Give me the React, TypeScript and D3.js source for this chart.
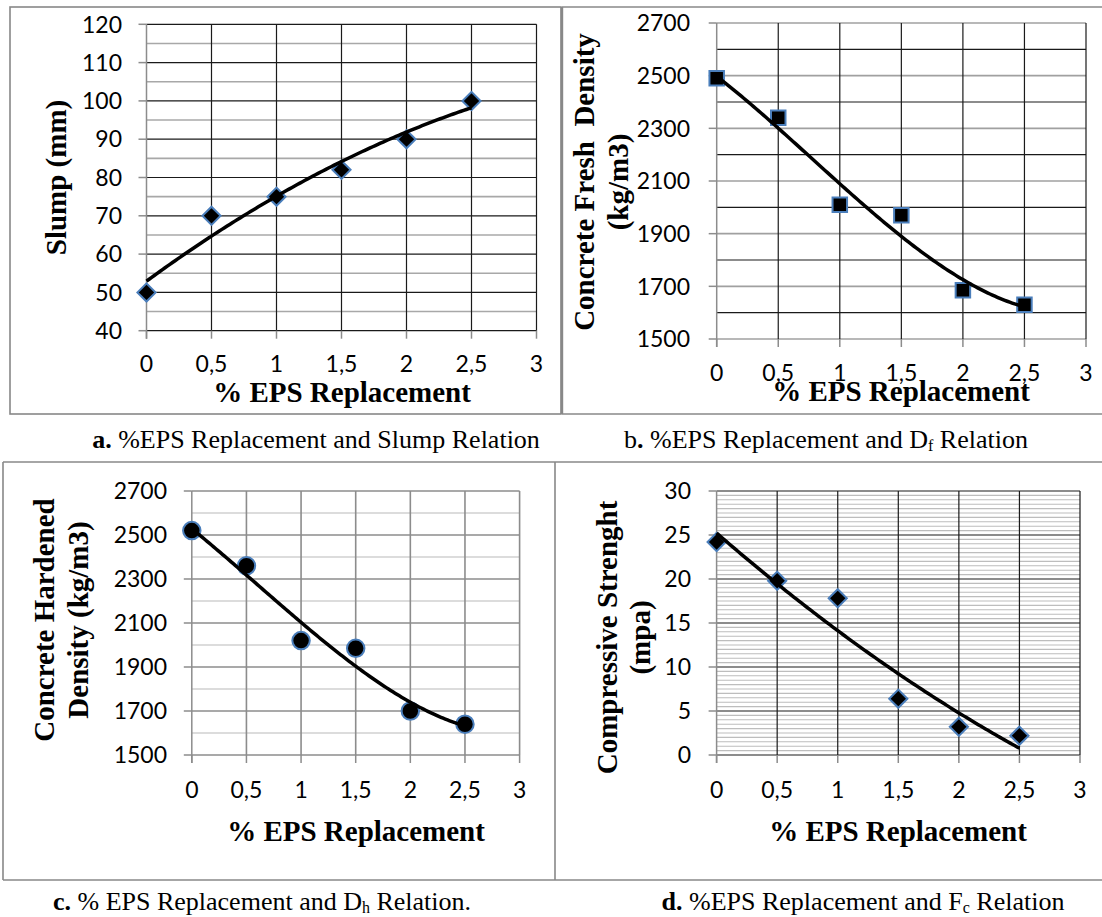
import React from 'react';
import * as d3 from 'd3';

// ---------- data ----------
const xValues = [0, 0.5, 1, 1.5, 2, 2.5];
const slumpValues = [50, 70, 75, 82, 90, 100];
const freshDensityValues = [2490, 2340, 2010, 1970, 1685, 1630];
const hardenedDensityValues = [2520, 2360, 2020, 1985, 1700, 1640];
const strengthValues = [24.2, 19.8, 17.8, 6.4, 3.2, 2.2];

const xTicks = [0, 0.5, 1, 1.5, 2, 2.5, 3];
const slumpTicks = [40, 50, 60, 70, 80, 90, 100, 110, 120];
const densityTicks = [1500, 1700, 1900, 2100, 2300, 2500, 2700];
const strengthTicks = [0, 5, 10, 15, 20, 25, 30];

const xAxisTitle = '% EPS Replacement';

// ---------- helpers ----------
function polyfit(xs: number[], ys: number[], order: number): number[] {
  const n = order + 1;
  const M: number[][] = Array.from({ length: n }, () => new Array(n + 1).fill(0));
  for (let r = 0; r < n; r++) {
    for (let c = 0; c < n; c++) {
      M[r][c] = d3.sum(xs, (x) => Math.pow(x, r + c));
    }
    M[r][n] = d3.sum(xs.map((x, i) => Math.pow(x, r) * ys[i]));
  }
  for (let i = 0; i < n; i++) {
    let p = i;
    for (let k = i + 1; k < n; k++) if (Math.abs(M[k][i]) > Math.abs(M[p][i])) p = k;
    [M[i], M[p]] = [M[p], M[i]];
    for (let k = i + 1; k < n; k++) {
      const f = M[k][i] / M[i][i];
      for (let c = i; c <= n; c++) M[k][c] -= f * M[i][c];
    }
  }
  const coef = new Array(n).fill(0);
  for (let i = n - 1; i >= 0; i--) {
    let s = M[i][n];
    for (let c = i + 1; c < n; c++) s -= M[i][c] * coef[c];
    coef[i] = s / M[i][i];
  }
  return coef;
}
const evalPoly = (coef: number[], x: number) => coef.reduce((s, c, i) => s + c * Math.pow(x, i), 0);

const SERIF = "'Liberation Serif', 'Times New Roman', serif";
const SANS = "Lato, 'Open Sans', sans-serif";
const MARKER_BLUE = '#4a7ebb';
const AXIS_GRAY = '#8c8c8c';

type GridStyle = { color: string; width: number };
type PanelCfg = {
  values: number[];
  yTicks: number[];
  minorStep: number;
  order: number;
  marker: 'diamond' | 'square' | 'circle';
  x0: number; x1: number; y0: number; y1: number;
  yLabelRight: number;
  xLabelY: number;
  xTitleX: number; xTitleY: number;
  yTitleLines: { text: string; x: number }[];
  yTitleY: number;
  majorH: GridStyle; minorH: GridStyle; vert: GridStyle;
};

function Panel({ cfg }: { cfg: PanelCfg }) {
  const yMin = cfg.yTicks[0];
  const yMax = cfg.yTicks[cfg.yTicks.length - 1];
  const x = d3.scaleLinear().domain([0, 3]).range([cfg.x0, cfg.x1]);
  const y = d3.scaleLinear().domain([yMin, yMax]).range([cfg.y1, cfg.y0]);
  const minor = d3
    .range(yMin, yMax + cfg.minorStep / 2, cfg.minorStep)
    .map((v) => Math.round(v * 1000) / 1000)
    .filter((v) => !cfg.yTicks.some((t) => Math.abs(t - v) < 1e-6));
  const coef = polyfit(xValues, cfg.values, cfg.order);
  const samples = d3.range(0, 2.5 + 1e-9, 0.02);
  const trend = d3
    .line<number>()
    .x((d) => x(d))
    .y((d) => y(evalPoly(coef, d)))
    .curve(d3.curveLinear)(samples);
  const fmtX = (v: number) => d3.format('~g')(v).replace('.', ',');

  let symPath = '';
  let rot = 0;
  if (cfg.marker === 'diamond') {
    symPath = d3.symbol(d3.symbolSquare, 165)()!;
    rot = 45;
  } else if (cfg.marker === 'square') {
    symPath = d3.symbol(d3.symbolSquare, 210)()!;
  } else {
    symPath = d3.symbol(d3.symbolCircle, 240)()!;
  }

  return (
    <g>
      {minor.map((v) => (
        <line key={'mn' + v} x1={cfg.x0} x2={cfg.x1} y1={y(v)} y2={y(v)} stroke={cfg.minorH.color} strokeWidth={cfg.minorH.width} />
      ))}
      {cfg.yTicks.map((v) => (
        <line key={'mj' + v} x1={cfg.x0} x2={cfg.x1} y1={y(v)} y2={y(v)} stroke={cfg.majorH.color} strokeWidth={cfg.majorH.width} />
      ))}
      {xTicks.slice(1).map((v) => (
        <line key={'v' + v} x1={x(v)} x2={x(v)} y1={cfg.y0} y2={cfg.y1} stroke={cfg.vert.color} strokeWidth={cfg.vert.width} />
      ))}
      {/* y axis */}
      <line x1={cfg.x0} x2={cfg.x0} y1={cfg.y0} y2={cfg.y1 + 8} stroke={AXIS_GRAY} strokeWidth={1.5} />
      {cfg.yTicks.map((v) => (
        <line key={'yt' + v} x1={cfg.x0 - 8} x2={cfg.x0} y1={y(v)} y2={y(v)} stroke={AXIS_GRAY} strokeWidth={1.5} />
      ))}
      {xTicks.map((v) => (
        <line key={'xt' + v} x1={x(v)} x2={x(v)} y1={cfg.y1} y2={cfg.y1 + 8} stroke={AXIS_GRAY} strokeWidth={1.5} />
      ))}
      {cfg.yTicks.map((v) => (
        <text key={'yl' + v} x={cfg.yLabelRight} y={y(v)} dy="0.36em" textAnchor="end" fontFamily={SANS} fontSize={23} fill="#000">
          {v}
        </text>
      ))}
      {xTicks.map((v) => (
        <text key={'xl' + v} x={x(v)} y={cfg.xLabelY} dy="0.36em" textAnchor="middle" fontFamily={SANS} fontSize={23} fill="#000">
          {fmtX(v)}
        </text>
      ))}
      {/* markers */}
      {xValues.map((xv, i) => (
        <path
          key={'m' + i}
          d={symPath}
          transform={`translate(${x(xv)},${y(cfg.values[i])}) rotate(${rot})`}
          fill="#000"
          stroke={MARKER_BLUE}
          strokeWidth={2}
        />
      ))}
      <path d={trend ?? ''} fill="none" stroke="#000" strokeWidth={3.5} strokeLinecap="butt" />
      <text x={cfg.xTitleX} y={cfg.xTitleY} textAnchor="middle" fontFamily={SERIF} fontWeight="bold" fontSize={29} fill="#000">
        {xAxisTitle}
      </text>
      {cfg.yTitleLines.map((l, i) => (
        <text
          key={'yt' + i}
          transform={`translate(${l.x},${cfg.yTitleY}) rotate(-90)`}
          textAnchor="middle"
          fontFamily={SERIF}
          fontWeight="bold"
          fontSize={29}
          fill="#000"
          style={{ whiteSpace: 'pre' }}
        >
          {l.text}
        </text>
      ))}
    </g>
  );
}

const panels: PanelCfg[] = [
  {
    values: slumpValues, yTicks: slumpTicks, minorStep: 5, order: 2, marker: 'diamond',
    x0: 146.5, x1: 536.5, y0: 24.3, y1: 330.7, yLabelRight: 122, xLabelY: 364,
    xTitleX: 342, xTitleY: 402, yTitleLines: [{ text: 'Slump (mm)', x: 66 }], yTitleY: 177.5,
    majorH: { color: '#1a1a1a', width: 1.2 }, minorH: { color: '#a8a8a8', width: 1.6 }, vert: { color: '#1a1a1a', width: 1.2 },
  },
  {
    values: freshDensityValues, yTicks: densityTicks, minorStep: 100, order: 3, marker: 'square',
    x0: 716.7, x1: 1086, y0: 23, y1: 339, yLabelRight: 690, xLabelY: 373,
    xTitleX: 901, xTitleY: 401,
    yTitleLines: [{ text: 'Concrete Fresh  Density', x: 594 }, { text: '(kg/m3)', x: 628 }], yTitleY: 182,
    majorH: { color: '#a0a0a0', width: 1.6 }, minorH: { color: '#1a1a1a', width: 1.2 }, vert: { color: '#1a1a1a', width: 1.2 },
  },
  {
    values: hardenedDensityValues, yTicks: densityTicks, minorStep: 100, order: 3, marker: 'circle',
    x0: 191.8, x1: 519.6, y0: 491, y1: 755, yLabelRight: 167, xLabelY: 790,
    xTitleX: 356, xTitleY: 841,
    yTitleLines: [{ text: 'Concrete Hardened', x: 54 }, { text: 'Density (kg/m3)', x: 88 }], yTitleY: 620,
    majorH: { color: '#8c8c8c', width: 1.6 }, minorH: { color: '#d0d0d0', width: 1.6 }, vert: { color: '#8c8c8c', width: 1.6 },
  },
  {
    values: strengthValues, yTicks: strengthTicks, minorStep: 0.5, order: 2, marker: 'diamond',
    x0: 716.6, x1: 1080, y0: 491, y1: 755, yLabelRight: 691, xLabelY: 790,
    xTitleX: 898, xTitleY: 841,
    yTitleLines: [{ text: 'Compressive Strenght', x: 617 }, { text: '(mpa)', x: 650 }], yTitleY: 637.5,
    majorH: { color: '#1a1a1a', width: 1.2 }, minorH: { color: '#bdbdbd', width: 1.1 }, vert: { color: '#1a1a1a', width: 1.2 },
  },
];

function Caption({ x, y, bold, rest, sub, tail, boldLetterRegular }: { x: number; y: number; bold: string; rest: string; sub: string; tail: string; boldLetterRegular?: boolean }) {
  return (
    <text x={x} y={y} textAnchor="middle" fontFamily={SERIF} fontSize={26} fill="#000" style={{ whiteSpace: 'pre' }}>
      {boldLetterRegular ? (
        <>
          <tspan>{bold.slice(0, -1)}</tspan>
          <tspan fontWeight="bold">{bold.slice(-1)}</tspan>
        </>
      ) : (
        <tspan fontWeight="bold">{bold}</tspan>
      )}
      <tspan>{rest}</tspan>
      {sub ? (
        <tspan fontSize={16} dy={3}>
          {sub}
        </tspan>
      ) : null}
      <tspan dy={sub ? -3 : 0}>{tail}</tspan>
    </text>
  );
}

export default function App() {
  const frame = '#888888';
  return (
    <svg width={1102} height={917} style={{ position: 'absolute', left: 0, top: 0, background: '#fff' }}>
      <rect x={0} y={0} width={1102} height={917} fill="#fff" />
      {/* frames */}
      <rect x={10} y={7} width={551} height={407} fill="none" stroke={frame} strokeWidth={1.6} />
      <line x1={562} x2={1102} y1={7} y2={7} stroke={frame} strokeWidth={1.6} />
      <line x1={562} x2={562} y1={7} y2={414} stroke={frame} strokeWidth={2.4} />
      <line x1={562} x2={1102} y1={414} y2={414} stroke={frame} strokeWidth={1.6} />
      <line x1={3} x2={1102} y1={462} y2={462} stroke={frame} strokeWidth={1.6} />
      <line x1={3} x2={3} y1={462} y2={880} stroke={frame} strokeWidth={1.6} />
      <line x1={3} x2={1102} y1={880} y2={880} stroke={frame} strokeWidth={1.6} />
      <line x1={555} x2={555} y1={462} y2={880} stroke={frame} strokeWidth={1.6} />
      {panels.map((p, i) => (
        <Panel key={i} cfg={p} />
      ))}
      <Caption x={316} y={448} bold="a." rest=" %EPS Replacement and Slump Relation" sub="" tail="" />
      <Caption x={826} y={448} bold="b." rest=" %EPS Replacement and D" sub="f" tail=" Relation" boldLetterRegular />
      <Caption x={262} y={910} bold="c." rest=" % EPS Replacement and D" sub="h" tail=" Relation." />
      <Caption x={863} y={910} bold="d." rest=" %EPS Replacement and F" sub="c" tail=" Relation" />
    </svg>
  );
}
